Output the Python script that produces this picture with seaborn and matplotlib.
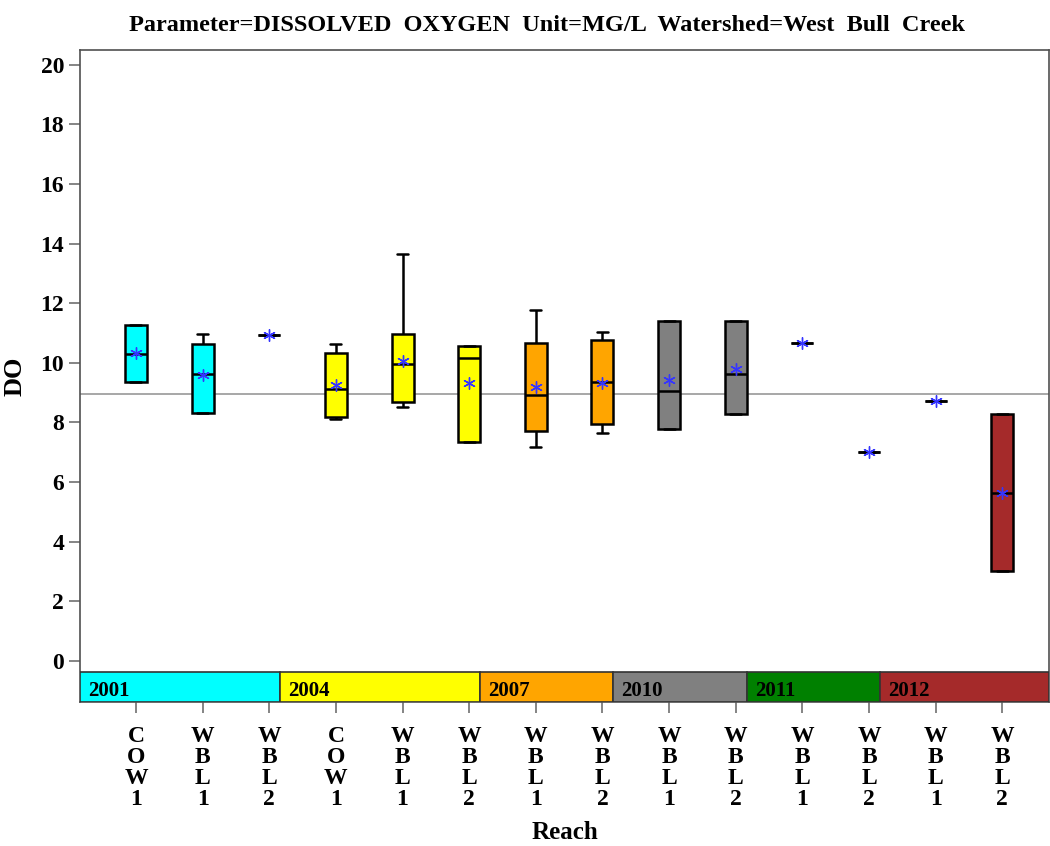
import pandas as pd
import matplotlib
matplotlib.use('Agg')
import matplotlib.pyplot as plt
from matplotlib.patches import Rectangle
import seaborn as sns

# Box statistics (DO, mg/L)
years = ['2001', '2001', '2001', '2004', '2004', '2004', '2007', '2007',
         '2010', '2010', '2011', '2011', '2012', '2012']
reaches = ['COW1', 'WBL1', 'WBL2', 'COW1', 'WBL1', 'WBL2', 'WBL1', 'WBL2',
           'WBL1', 'WBL2', 'WBL1', 'WBL2', 'WBL1', 'WBL2']
do_min = [9.37, 8.33, 10.95, 8.11, 8.53, 7.35, 7.17, 7.65, 7.79, 8.28, 10.68, 7.01, 8.71, 3.00]
do_q1 = [9.37, 8.33, 10.95, 8.20, 8.68, 7.35, 7.72, 7.95, 7.79, 8.28, 10.68, 7.01, 8.71, 3.00]
do_med = [10.31, 9.63, 10.95, 9.13, 9.96, 10.16, 8.91, 9.35, 9.07, 9.62, 10.68, 7.01, 8.71, 5.65]
do_q3 = [11.27, 10.65, 10.95, 10.32, 10.98, 10.57, 10.67, 10.76, 11.39, 11.42, 10.68, 7.01, 8.71, 8.29]
do_max = [11.27, 10.98, 10.95, 10.64, 13.66, 10.57, 11.79, 11.04, 11.39, 11.42, 10.68, 7.01, 8.71, 8.29]
do_mean = [10.33, 9.61, 10.95, 9.26, 10.05, 9.34, 9.19, 9.34, 9.42, 9.78, 10.68, 7.01, 8.71, 5.65]
ref_level = 8.95

year_list = ['2001', '2004', '2007', '2010', '2011', '2012']
year_colors = {'2001': '#00FFFF', '2004': '#FFFF00', '2007': '#FFA500',
               '2010': '#808080', '2011': '#008000', '2012': '#A52A2A'}

# five points per box -> quartiles land exactly on the read values
keys = [f'{y} {r}' for y, r in zip(years, reaches)]
rows = []
for i, k in enumerate(keys):
    for v in (do_min[i], do_q1[i], do_med[i], do_q3[i], do_max[i]):
        rows.append({'key': k, 'DO': v})
df = pd.DataFrame(rows)
box_colors = [year_colors[y] for y in years]

sns.set_style('ticks')
plt.rcParams['font.family'] = ['Liberation Serif', 'DejaVu Serif']
plt.rcParams['font.weight'] = 'bold'
plt.rcParams['text.color'] = 'black'
plt.rcParams['axes.labelcolor'] = 'black'
plt.rcParams['xtick.labelcolor'] = 'black'
plt.rcParams['ytick.labelcolor'] = 'black'

fig = plt.figure(figsize=(10.5, 8.46), dpi=100)
ax = fig.add_axes([0.0762, 0.1702, 0.9228, 0.7707])

box_w = 0.33
ax.axhline(ref_level, color='#909090', lw=1.1, zorder=0)
sns.boxplot(data=df, x='key', y='DO', hue='key', order=keys, hue_order=keys,
            palette=box_colors, saturation=1, whis=(0, 100), width=box_w,
            linewidth=1.8, linecolor='black', legend=False, ax=ax)
sns.scatterplot(x=keys, y=do_mean, marker=(6, 2, 0), s=70, color='#3535ff',
                linewidth=1.0, ax=ax, zorder=5)

ax.set_xlim(-0.84, 13.70)
ax.set_ylim(-1.38, 20.5)

# year band under the boxes
band_lo, band_hi = -1.38, -0.37
start = ax.get_xlim()[0]
for j, yr in enumerate(year_list):
    idx = [i for i, y in enumerate(years) if y == yr]
    end = idx[-1] + box_w / 2 if j < len(year_list) - 1 else ax.get_xlim()[1]
    ax.add_patch(Rectangle((start, band_lo), end - start, band_hi - band_lo,
                           facecolor=year_colors[yr], edgecolor='#333333',
                           lw=1.2, zorder=3))
    ax.text(start + 0.12, band_lo + 0.36, yr, fontsize=15, fontweight='bold',
            color='black', va='center', ha='left', zorder=4)
    start = end

ax.set_yticks(range(0, 21, 2))
ax.set_xticks(range(len(keys)))
ax.set_xticklabels(['\n'.join(r) for r in reaches], fontsize=17,
                   fontweight='bold', linespacing=1.0)
ax.tick_params(axis='both', direction='out', length=8, color='#707070',
               width=1.2, labelsize=17)
ax.tick_params(axis='x', pad=9)
for lab in ax.get_yticklabels():
    lab.set_fontweight('bold')

for sp in ax.spines.values():
    sp.set_color('#505050')
    sp.set_linewidth(1.2)

ax.set_xlabel('Reach', fontsize=18, fontweight='bold', labelpad=8)
ax.set_ylabel('DO', fontsize=19, fontweight='bold', labelpad=10)
fig.suptitle('Parameter=DISSOLVED  OXYGEN  Unit=MG/L  Watershed=West  Bull  Creek',
             x=0.521, y=0.982, fontsize=17.5, fontweight='bold')

fig.savefig('out.png', dpi=100)
